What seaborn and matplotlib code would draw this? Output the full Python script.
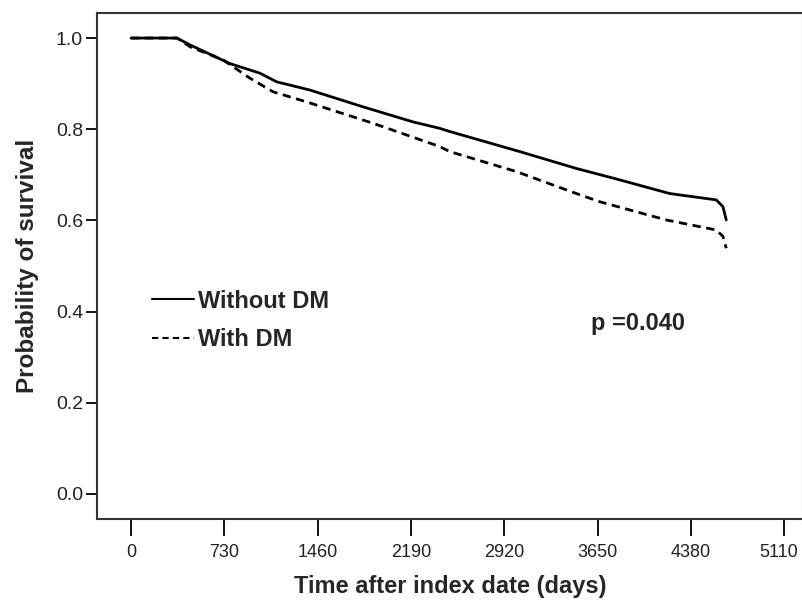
import matplotlib
matplotlib.use("Agg")
import matplotlib.pyplot as plt
import matplotlib.transforms as mtransforms
import seaborn as sns
import pandas as pd

# Kaplan-Meier curves (days, survival probability)
days_no_dm = [0, 360, 461, 774, 1008, 1139, 1399, 1816, 2207, 2415, 2493,
              3040, 3483, 3822, 4213, 4578, 4630, 4656]
surv_no_dm = [1.0, 1.0, 0.985, 0.944, 0.923, 0.904, 0.886, 0.849, 0.816, 0.802,
              0.795, 0.751, 0.714, 0.689, 0.659, 0.645, 0.630, 0.601]

days_dm = [0, 360, 461, 721, 930, 1112, 1373, 1894, 2415, 2493, 3015, 3483,
           3666, 4187, 4578, 4630, 4656]
surv_dm = [1.0, 1.0, 0.981, 0.952, 0.912, 0.882, 0.860, 0.813, 0.762, 0.751,
           0.707, 0.659, 0.641, 0.601, 0.579, 0.565, 0.539]

groups = ["Without DM", "With DM"]
xticks = [0, 730, 1460, 2190, 2920, 3650, 4380, 5110]
yticks = [0.0, 0.2, 0.4, 0.6, 0.8, 1.0]
p_text = "p =0.040"

df = pd.concat([
    pd.DataFrame({"days": days_no_dm, "surv": surv_no_dm, "group": groups[0]}),
    pd.DataFrame({"days": days_dm, "surv": surv_dm, "group": groups[1]}),
])

sns.set_style("ticks")
plt.rcParams["font.family"] = ["Liberation Sans", "DejaVu Sans"]

fig = plt.figure(figsize=(8.03, 6.01), dpi=100)
ax = fig.add_axes([0.1208, 0.1364, 0.879, 0.842])

sns.lineplot(data=df, x="days", y="surv", style="group", style_order=groups,
             color="black", linewidth=2, estimator=None, sort=False,
             dashes={groups[0]: "", groups[1]: (3, 2)}, ax=ax)

ax.set_xlim(-266, 5255)
ax.set_ylim(-0.055, 1.055)
ax.set_xticks(xticks)
ax.set_xticklabels([str(t) for t in xticks])
ax.set_yticks(yticks)
ax.set_yticklabels([f"{t:.1f}" for t in yticks])
ax.tick_params(axis="both", color="black", length=8, width=1.3,
               direction="out", labelcolor="#222222")
ax.tick_params(axis="y", labelsize=14, pad=2)
ax.tick_params(axis="x", labelsize=13, length=12, pad=6)

# last label sits at the right edge of the picture; nudge it inside
last = ax.get_xticklabels()[-1]
last.set_transform(last.get_transform() +
                   mtransforms.ScaledTranslation(-4 / 72, 0, fig.dpi_scale_trans))

for side in ["left", "bottom", "top", "right"]:
    ax.spines[side].set_color("#333333")
    ax.spines[side].set_linewidth(1.5)

ax.set_xlabel("Time after index date (days)", fontsize=17, fontweight="bold",
              labelpad=10)
ax.set_ylabel("Probability of survival", fontsize=17.5, fontweight="bold",
              labelpad=12)

ax.text(3600, 0.373, p_text, fontsize=17, fontweight="bold", va="center")

leg = ax.legend(loc="upper left", bbox_to_anchor=(0.065, 0.472), frameon=False,
                prop={"weight": "bold", "size": 17}, handlelength=1.75,
                handletextpad=0.2, labelspacing=0.65, borderaxespad=0)
for h in leg.get_lines():
    h.set_linewidth(1.5)

fig.savefig("out.png", dpi=100)
